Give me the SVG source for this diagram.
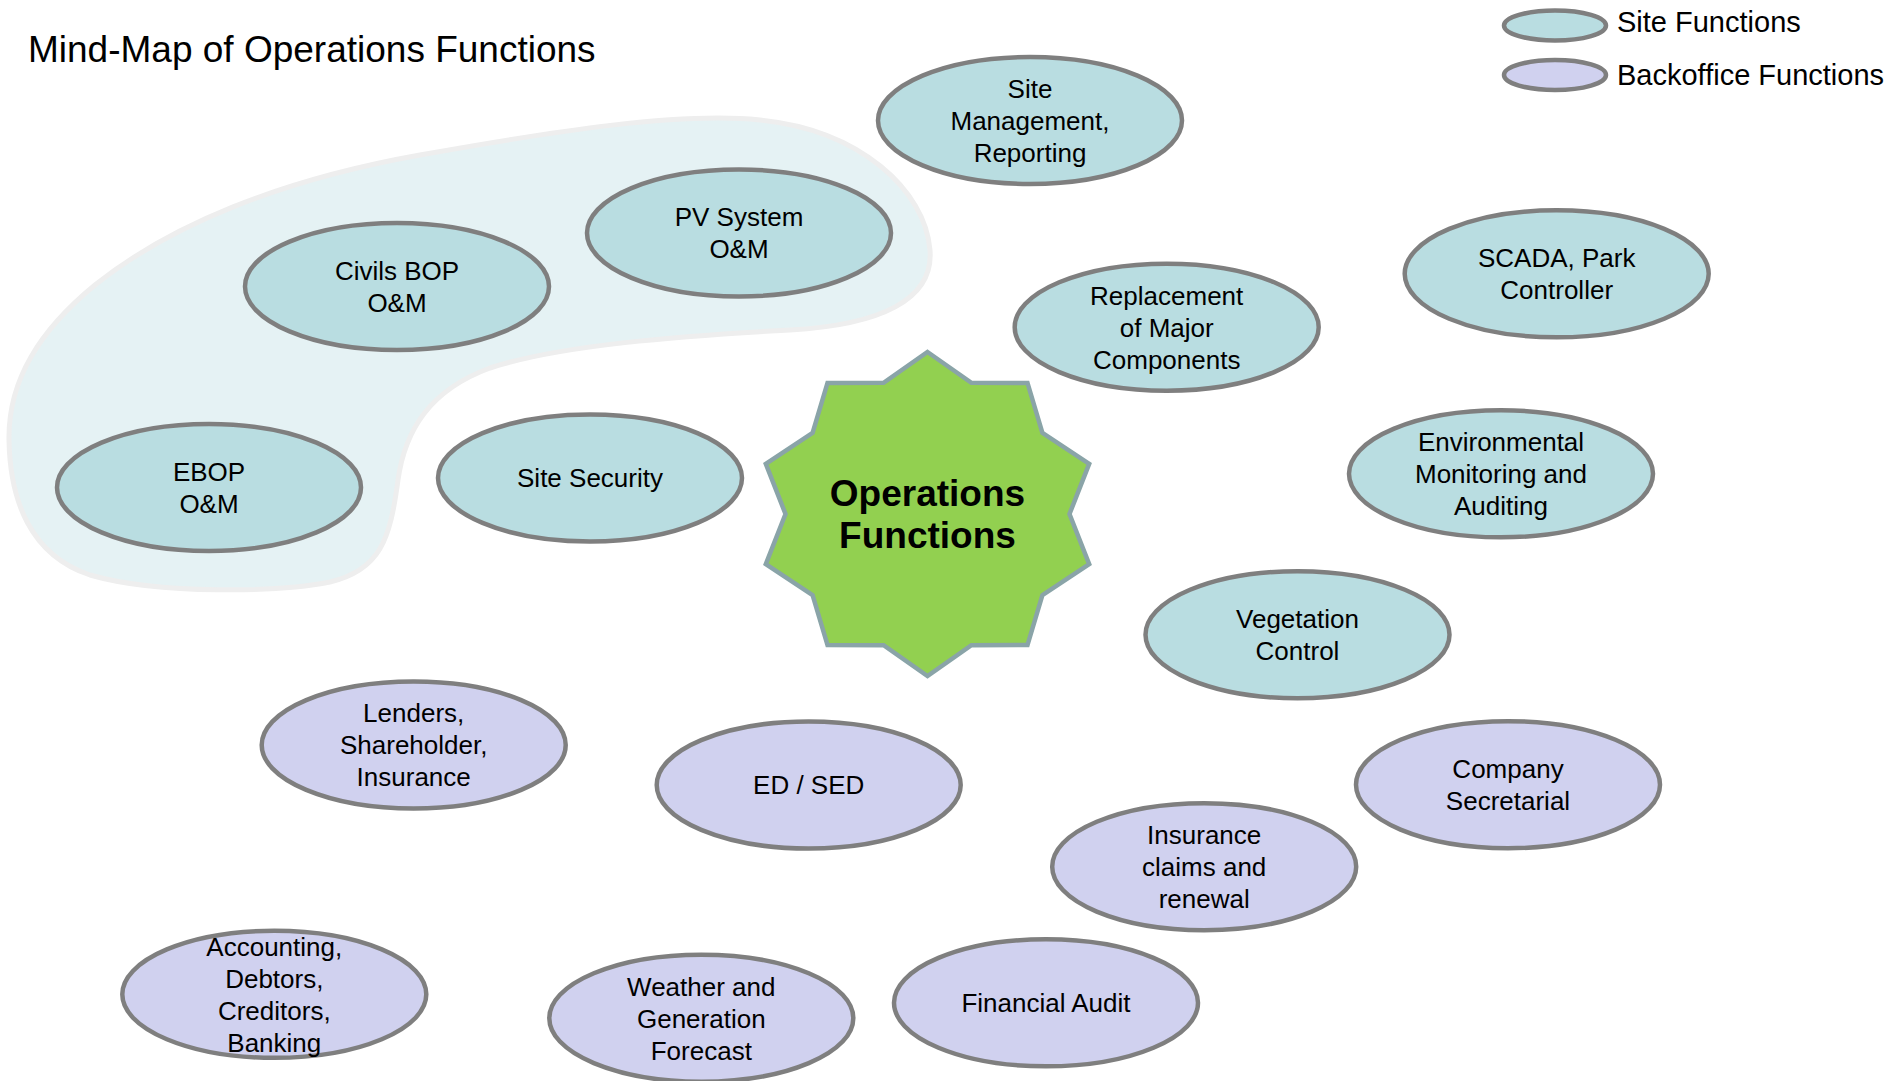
<svg xmlns="http://www.w3.org/2000/svg" width="1893" height="1081" viewBox="0 0 1893 1081">
  <style>
    .site { fill: #b9dde1; stroke: #7f7f7f; stroke-width: 4.5; }
    .back { fill: #d0d1ef; stroke: #7f7f7f; stroke-width: 4.5; }
    .lbl { font-family: "Liberation Sans", Arial, sans-serif; font-size: 26px; fill: #000; text-anchor: middle; }
    .legend { font-family: "Liberation Sans", Arial, sans-serif; font-size: 29px; fill: #000; }
    .title { font-family: "Liberation Sans", Arial, sans-serif; font-size: 37px; fill: #000; }
    .hub { font-family: "Liberation Sans", Arial, sans-serif; font-size: 37px; font-weight: bold; fill: #000; text-anchor: middle; }
  </style>
  <rect width="1893" height="1081" fill="#ffffff"/>

  <text class="title" x="28" y="62">Mind-Map of Operations Functions</text>

  <!-- legend -->
  <g id="legend">
    <ellipse class="site" cx="1555" cy="25.5" rx="51" ry="15"/>
    <text class="legend" x="1617" y="32">Site Functions</text>
    <ellipse class="back" cx="1555" cy="75" rx="51" ry="15"/>
    <text class="legend" x="1617" y="85">Backoffice Functions</text>
  </g>

  <!-- shaded grouping behind the O&M nodes -->
  <path id="om-group" d="M 9,440 C 8,380 40,330 95,285 C 170,225 280,180 420,155 C 560,130 680,112 760,120 C 860,130 925,190 930,250 C 934,300 880,325 790,330 C 680,336 560,345 490,368 C 430,390 405,430 398,480 C 390,540 380,570 330,582 C 280,592 160,595 90,575 C 30,555 10,500 9,440 Z" fill="#e5f2f4" stroke="#eeeeee" stroke-width="5"/>

  <g id="connectors"/>

  <!-- central hub -->
  <g id="hub">
    <path d="M927.5,352 L971.4,382.8 L1027.5,382.9 L1042.4,432.9 L1089.2,463.9 L1069.5,514 L1089.2,564.1 L1042.4,595.1 L1027.5,645.1 L971.4,645.2 L927.5,676 L883.6,645.2 L827.5,645.1 L812.6,595.1 L765.8,564.1 L785.5,514 L765.8,463.9 L812.6,432.9 L827.5,382.9 L883.6,382.8 Z" fill="#92d050" stroke="#8aa4a8" stroke-width="4.5" stroke-linejoin="miter"/>
    <text class="hub" x="927.5" y="505.5">Operations</text>
    <text class="hub" x="927.5" y="548">Functions</text>
  </g>

  <!-- site functions -->
  <g id="site-management">
    <ellipse class="site" cx="1030" cy="120.5" rx="152" ry="63.5"/>
    <text class="lbl" x="1030" y="97.8">Site</text>
    <text class="lbl" x="1030" y="129.8">Management,</text>
    <text class="lbl" x="1030" y="161.8">Reporting</text>
  </g>
  <g id="pv-system">
    <ellipse class="site" cx="739" cy="233" rx="152" ry="63.5"/>
    <text class="lbl" x="739" y="226.3">PV System</text>
    <text class="lbl" x="739" y="258.3">O&amp;M</text>
  </g>
  <g id="civils-bop">
    <ellipse class="site" cx="397" cy="286.5" rx="152" ry="63.5"/>
    <text class="lbl" x="397" y="279.8">Civils BOP</text>
    <text class="lbl" x="397" y="311.8">O&amp;M</text>
  </g>
  <g id="replacement">
    <ellipse class="site" cx="1166.7" cy="327.2" rx="152" ry="63.5"/>
    <text class="lbl" x="1166.7" y="304.5">Replacement</text>
    <text class="lbl" x="1166.7" y="336.5">of Major</text>
    <text class="lbl" x="1166.7" y="368.5">Components</text>
  </g>
  <g id="scada">
    <ellipse class="site" cx="1556.7" cy="273.8" rx="152" ry="63.5"/>
    <text class="lbl" x="1556.7" y="267.1">SCADA, Park</text>
    <text class="lbl" x="1556.7" y="299.1">Controller</text>
  </g>
  <g id="ebop">
    <ellipse class="site" cx="209" cy="487.5" rx="152" ry="63.5"/>
    <text class="lbl" x="209" y="480.8">EBOP</text>
    <text class="lbl" x="209" y="512.8">O&amp;M</text>
  </g>
  <g id="site-security">
    <ellipse class="site" cx="590" cy="478" rx="152" ry="63.5"/>
    <text class="lbl" x="590" y="487.3">Site Security</text>
  </g>
  <g id="environmental">
    <ellipse class="site" cx="1501" cy="473.8" rx="152" ry="63.5"/>
    <text class="lbl" x="1501" y="451.1">Environmental</text>
    <text class="lbl" x="1501" y="483.1">Monitoring and</text>
    <text class="lbl" x="1501" y="515.1">Auditing</text>
  </g>
  <g id="vegetation">
    <ellipse class="site" cx="1297.5" cy="634.7" rx="152" ry="63.5"/>
    <text class="lbl" x="1297.5" y="628">Vegetation</text>
    <text class="lbl" x="1297.5" y="660">Control</text>
  </g>

  <!-- backoffice functions -->
  <g id="lenders">
    <ellipse class="back" cx="413.7" cy="745" rx="152" ry="63.5"/>
    <text class="lbl" x="413.7" y="722.3">Lenders,</text>
    <text class="lbl" x="413.7" y="754.3">Shareholder,</text>
    <text class="lbl" x="413.7" y="786.3">Insurance</text>
  </g>
  <g id="ed-sed">
    <ellipse class="back" cx="808.7" cy="785" rx="152" ry="63.5"/>
    <text class="lbl" x="808.7" y="794.3">ED / SED</text>
  </g>
  <g id="company-secretarial">
    <ellipse class="back" cx="1508" cy="784.7" rx="152" ry="63.5"/>
    <text class="lbl" x="1508" y="778">Company</text>
    <text class="lbl" x="1508" y="810">Secretarial</text>
  </g>
  <g id="insurance-claims">
    <ellipse class="back" cx="1204.2" cy="866.7" rx="152" ry="63.5"/>
    <text class="lbl" x="1204.2" y="844">Insurance</text>
    <text class="lbl" x="1204.2" y="876">claims and</text>
    <text class="lbl" x="1204.2" y="908">renewal</text>
  </g>
  <g id="accounting">
    <ellipse class="back" cx="274.3" cy="994.3" rx="152" ry="63.5"/>
    <text class="lbl" x="274.3" y="955.6">Accounting,</text>
    <text class="lbl" x="274.3" y="987.6">Debtors,</text>
    <text class="lbl" x="274.3" y="1019.6">Creditors,</text>
    <text class="lbl" x="274.3" y="1051.6">Banking</text>
  </g>
  <g id="weather-forecast">
    <ellipse class="back" cx="701.3" cy="1018.2" rx="152" ry="63.5"/>
    <text class="lbl" x="701.3" y="995.5">Weather and</text>
    <text class="lbl" x="701.3" y="1027.5">Generation</text>
    <text class="lbl" x="701.3" y="1059.5">Forecast</text>
  </g>
  <g id="financial-audit">
    <ellipse class="back" cx="1046" cy="1002.8" rx="152" ry="63.5"/>
    <text class="lbl" x="1046" y="1012.1">Financial Audit</text>
  </g>
</svg>
